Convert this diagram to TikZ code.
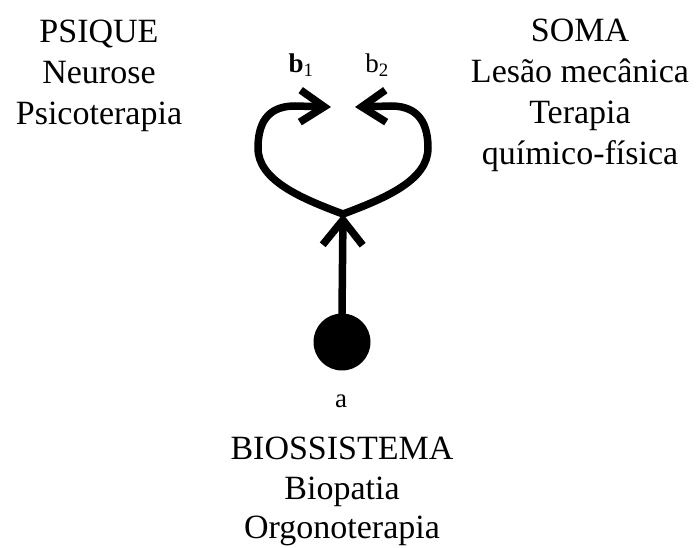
\documentclass[tikz,border=0pt]{standalone}
\usepackage{fontspec}
\setmainfont{Liberation Serif}
\usetikzlibrary{arrows.meta}
\begin{document}
\begin{tikzpicture}[x=1pt,y=-1pt,
  lbl/.style={anchor=base,inner sep=0pt,font=\fontsize{34}{40}\selectfont},
  smalllbl/.style={anchor=base,inner sep=0pt,font=\fontsize{27}{30}\selectfont},
  stroke/.style={line width=7.5pt,line cap=round,line join=round},
  barb/.style={-{Straight Barb[length=24pt,width=32pt]}},
  bigbarb/.style={-{Straight Barb[length=25pt,width=40pt]}}
]
\useasboundingbox (0,0) rectangle (697,548);
% left column
\node[lbl] (psique) at (99,43) {PSIQUE};
\node[lbl] (neurose) at (99,84) {Neurose};
\node[lbl] (psicoterapia) at (99,125) {Psicoterapia};
% right column
\node[lbl] (soma) at (580,42) {SOMA};
\node[lbl] (lesao) at (580,83) {Lesão mecânica};
\node[lbl] (terapia) at (580,124) {Terapia};
\node[lbl] (quimico) at (580,165) {químico-física};
% bottom
\node[smalllbl] (alab) at (341,407) {a};
\node[lbl] (bio) at (342,459) {BIOSSISTEMA};
\node[lbl] (biopatia) at (342,499) {Biopatia};
\node[lbl] (orgono) at (342,538) {Orgonoterapia};
% b labels
\node[smalllbl] (b1) at (301,73) {\textbf{b}\textsubscript{1}};
\node[smalllbl] (b2) at (377,73) {b\textsubscript{2}};
% diagram
\node[circle,fill=black,minimum size=57pt,inner sep=0pt] (dot) at (342,342) {};
\coordinate (J) at (343,214);
\coordinate (tipL) at (331,107);
\coordinate (tipR) at (355,107);
\draw[stroke,bigbarb] (dot.north) -- (J);
\draw[stroke,barb] (J) .. controls (300,198) and (258,180) .. (258,148)
  .. controls (258,118) and (272,106) .. (295,106) -- (tipL);
\draw[stroke,barb] (J) .. controls (386,198) and (428,180) .. (428,148)
  .. controls (428,118) and (414,106) .. (391,106) -- (tipR);
\end{tikzpicture}
\end{document}
